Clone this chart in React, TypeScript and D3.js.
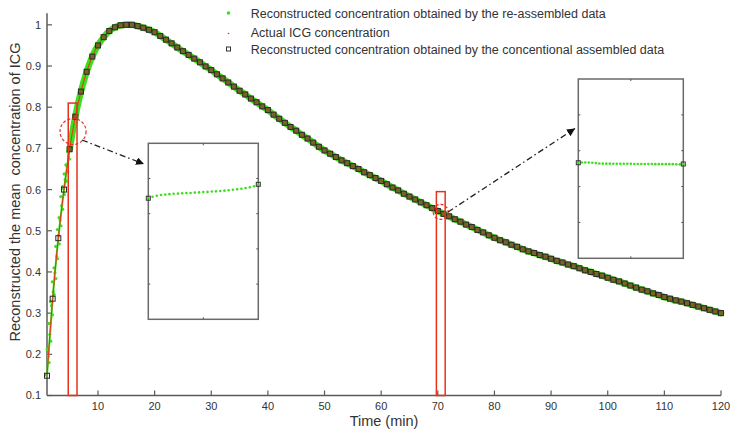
import React from "react";
import * as d3 from "d3";

// ---------- data ----------
// actual ICG concentration, read at each whole minute 1..120
const minutes: number[] = Array.from({ length: 120 }, (_, i) => i + 1);
const actualICG: number[] = [
  0.148, 0.335, 0.482, 0.600, 0.698, 0.777, 0.838, 0.886, 0.923, 0.950,
  0.970, 0.985, 0.994, 0.999, 1.000, 1.000, 0.997, 0.993, 0.988, 0.982,
  0.973, 0.964, 0.955, 0.945, 0.936, 0.927, 0.918, 0.909, 0.899, 0.890,
  0.880, 0.870, 0.860, 0.850, 0.840, 0.831, 0.821, 0.812, 0.802, 0.793,
  0.782, 0.772, 0.762, 0.752, 0.743, 0.733, 0.724, 0.714, 0.704, 0.695,
  0.687, 0.679, 0.671, 0.664, 0.657, 0.650, 0.642, 0.635, 0.628, 0.621,
  0.613, 0.605, 0.598, 0.590, 0.583, 0.576, 0.569, 0.562, 0.555, 0.548,
  0.541, 0.535, 0.528, 0.522, 0.515, 0.509, 0.502, 0.496, 0.489, 0.483,
  0.477, 0.472, 0.466, 0.461, 0.455, 0.450, 0.446, 0.441, 0.437, 0.432,
  0.427, 0.423, 0.418, 0.414, 0.409, 0.404, 0.400, 0.395, 0.391, 0.386,
  0.381, 0.377, 0.372, 0.367, 0.362, 0.357, 0.353, 0.348, 0.344, 0.339,
  0.335, 0.331, 0.328, 0.324, 0.320, 0.316, 0.312, 0.308, 0.304, 0.300,
];

// re-assembled reconstruction during the noisy rising phase (t = 1.0 .. 5.0, step 0.1)
const riseTimes: number[] = [
  1.0, 1.1, 1.2, 1.3, 1.4, 1.5, 1.6, 1.7, 1.8, 1.9, 2.0, 2.1, 2.2, 2.3, 2.4, 2.5, 2.6, 2.7, 2.8, 2.9,
  3.0, 3.1, 3.2, 3.3, 3.4, 3.5, 3.6, 3.7, 3.8, 3.9, 4.0, 4.1, 4.2, 4.3, 4.4, 4.5, 4.6, 4.7, 4.8, 4.9, 5.0,
];
const riseGreen: number[] = [
  0.150, 0.180, 0.195, 0.212, 0.232, 0.248, 0.275, 0.296, 0.318, 0.328, 0.345, 0.352, 0.376, 0.384,
  0.398, 0.410, 0.432, 0.438, 0.462, 0.468, 0.488, 0.503, 0.512, 0.526, 0.532, 0.552, 0.561, 0.583,
  0.588, 0.602, 0.607, 0.620, 0.624, 0.638, 0.643, 0.657, 0.660, 0.674, 0.680, 0.692, 0.700,
];

// zoomed windows: 5..6 min and 70..71 min, re-assembled samples
const inset1Green: number[] = [
  0.698, 0.706, 0.712, 0.716, 0.719, 0.721, 0.723, 0.724, 0.726, 0.727, 0.728, 0.730, 0.731, 0.733,
  0.734, 0.736, 0.737, 0.739, 0.741, 0.743, 0.746, 0.749, 0.752, 0.756, 0.760, 0.766, 0.774,
];
const inset2Green: number[] = [
  0.548, 0.549, 0.549, 0.549, 0.548, 0.546, 0.544, 0.543, 0.543, 0.543, 0.542, 0.542, 0.542, 0.542,
  0.542, 0.542, 0.541, 0.541, 0.541, 0.541, 0.541, 0.541, 0.540, 0.540, 0.540, 0.540, 0.540, 0.540,
  0.539, 0.539, 0.540,
];

const xTicks: number[] = [10, 20, 30, 40, 50, 60, 70, 80, 90, 100, 110, 120];
const yTicks: number[] = [0.1, 0.2, 0.3, 0.4, 0.5, 0.6, 0.7, 0.8, 0.9, 1];
const legendLabels: string[] = [
  "Reconstructed concentration obtained by the re-assembled data",
  "Actual ICG concentration",
  "Reconstructed concentration obtained by the concentional assembled data",
];
// highlighted windows in data units: [tStart, tEnd, topValue]
const zoomWindows: number[][] = [
  [4.75, 6.3, 0.81],
  [69.75, 71.3, 0.595],
];
// dashed circles: [t, value]
const zoomCircles: number[][] = [
  [5.6, 0.741],
  [70.5, 0.546],
];

// ---------- layout ----------
const W = 738;
const H = 438;
const GREEN = "#3be01c";
const RED = "#e8311a";
const AX = "#5a5a5a";
const TXT = "#333";
const FONT = "'Liberation Sans', Arial, sans-serif";

const x = d3.scaleLinear().domain([1, 120]).range([47, 721]);
const y = d3.scaleLinear().domain([0.1, 1.028]).range([395.5, 13.3]);

type Inset = { x0: number; x1: number; y0: number; y1: number; t0: number; t1: number; off: number; data: number[] };
const insets: Inset[] = [
  { x0: 148.3, x1: 258.3, y0: 143.3, y1: 319.3, t0: 5, t1: 6, off: 0.01, data: inset1Green },
  { x0: 578.3, x1: 683.3, y0: 79, y1: 258.3, t0: 70, t1: 71, off: 0.015, data: inset2Green },
];

function InsetBox({ ins }: { ins: Inset }) {
  const ix = d3.scaleLinear().domain([ins.t0, ins.t1]).range([ins.x0, ins.x1]);
  const iy = d3.scaleLinear().domain([ins.off, 1 + ins.off]).range([ins.y1, ins.y0]);
  const n = ins.data.length;
  const tAt = (i: number) => ins.t0 + (i * (ins.t1 - ins.t0)) / (n - 1);
  const yt = [0.2, 0.4, 0.6, 0.8].map((f) => ins.off + f);
  const sq = [ins.t0, ins.t1].map((t) => ({ t, v: actualICG[minutes.indexOf(t)] }));
  return (
    <g>
      <rect x={ins.x0} y={ins.y0} width={ins.x1 - ins.x0} height={ins.y1 - ins.y0} fill="#fff" stroke="#6a6a6a" strokeWidth={1.5} />
      {yt.map((v, i) => (
        <g key={i}>
          <line x1={ins.x0} x2={ins.x0 + 2} y1={iy(v)} y2={iy(v)} stroke="#555" strokeWidth={1} />
          <line x1={ins.x1} x2={ins.x1 - 2} y1={iy(v)} y2={iy(v)} stroke="#555" strokeWidth={1} />
        </g>
      ))}
      <line x1={ix((ins.t0 + ins.t1) / 2)} x2={ix((ins.t0 + ins.t1) / 2)} y1={ins.y0} y2={ins.y0 + 2} stroke="#555" />
      <line x1={ix((ins.t0 + ins.t1) / 2)} x2={ix((ins.t0 + ins.t1) / 2)} y1={ins.y1} y2={ins.y1 - 2} stroke="#555" />
      {ins.data.map((v, i) => (
        <circle key={i} cx={ix(tAt(i))} cy={iy(v)} r={1.3} fill={GREEN} />
      ))}
      {sq.map((s, i) => (
        <rect key={i} x={ix(s.t) - 2} y={iy(s.v) - 2} width={4} height={4} fill="none" stroke="#333" strokeWidth={1} />
      ))}
    </g>
  );
}

export default function App() {
  const pts = minutes.map((t, i) => [t, actualICG[i]] as [number, number]);
  const line = d3
    .line<[number, number]>()
    .x((d) => x(d[0]))
    .y((d) => y(d[1]))
    .curve(d3.curveMonotoneX);
  const path = line(pts) || "";
  const restPath = line(pts.filter((p) => p[0] >= 5)) || "";

  return (
    <svg width={W} height={H} style={{ position: "fixed", left: 0, top: 0, background: "#fff" }} fontFamily={FONT}>
      <rect width={W} height={H} fill="#fff" />
      {/* axes */}
      <line x1={x(1)} x2={x(1)} y1={y(1.028)} y2={y(0.1)} stroke={AX} strokeWidth={1.5} />
      <line x1={x(1)} x2={x(120)} y1={y(0.1)} y2={y(0.1)} stroke={AX} strokeWidth={1.5} />
      {xTicks.map((t) => (
        <g key={t}>
          <line x1={x(t)} x2={x(t)} y1={y(0.1)} y2={y(0.1) - 5} stroke={AX} strokeWidth={1.2} />
          <text x={x(t)} y={409.5} textAnchor="middle" fontSize={11} fill={TXT}>
            {t}
          </text>
        </g>
      ))}
      {yTicks.map((v) => (
        <g key={v}>
          <line x1={x(1)} x2={x(1) + 5} y1={y(v)} y2={y(v)} stroke={AX} strokeWidth={1.2} />
          <text x={41} y={y(v)} dy="0.36em" textAnchor="end" fontSize={11} fill={TXT}>
            {v}
          </text>
        </g>
      ))}
      <text x={384} y={426} textAnchor="middle" fontSize={14.5} fill={TXT}>
        Time (min)
      </text>
      <text
        transform={`translate(15,192) rotate(-90)`}
        textAnchor="middle"
        dy="0.35em"
        fontSize={14.5}
        fill={TXT}
        style={{ whiteSpace: "pre" }}
      >
        {"Reconstructed the mean  concentration of ICG"}
      </text>

      {/* data */}
      <path d={restPath} fill="none" stroke={GREEN} strokeWidth={6.5} strokeLinecap="round" />
      <path d={path} fill="none" stroke={GREEN} strokeWidth={2} />
      {riseTimes.map((t, i) => (
        <circle key={i} cx={x(t) + (i % 3 === 0 ? -1.5 : i % 3 === 1 ? 1.5 : 0)} cy={y(riseGreen[i])} r={1.6} fill={GREEN} />
      ))}
      <path d={path} fill="none" stroke={RED} strokeWidth={1} />
      {pts.map((p, i) => (
        <rect
          key={i}
          x={x(p[0]) - 2.5}
          y={y(p[1]) - 2.5}
          width={5}
          height={5}
          fill={p[0] >= 5 ? "#7a6424" : "none"}
          stroke="#2a2a2a"
          strokeWidth={1}
        />
      ))}

      {/* highlight windows */}
      {zoomWindows.map((w, i) => (
        <rect key={i} x={x(w[0])} y={y(w[2])} width={x(w[1]) - x(w[0])} height={y(0.1) - y(w[2])} fill="none" stroke={RED} strokeWidth={1.5} />
      ))}
      <circle cx={x(zoomCircles[0][0])} cy={y(zoomCircles[0][1])} r={13} fill="none" stroke={RED} strokeWidth={1.2} strokeDasharray="3,2" />
      <circle cx={x(zoomCircles[1][0])} cy={y(zoomCircles[1][1])} r={7.5} fill="none" stroke={RED} strokeWidth={1.2} strokeDasharray="3,2" />

      {/* arrows */}
      <defs>
        <marker id="ah" viewBox="0 0 10 10" refX={10} refY={5} markerWidth={8} markerHeight={8} orient="auto" markerUnits="userSpaceOnUse">
          <path d="M0,0 L10,5 L0,10 z" fill="#111" />
        </marker>
      </defs>
      <line x1={82} y1={140} x2={144} y2={164} stroke="#222" strokeWidth={1.3} strokeDasharray="6,3,1.5,3" markerEnd="url(#ah)" />
      <line x1={448} y1={212} x2={575} y2={128.5} stroke="#222" strokeWidth={1.3} strokeDasharray="6,3,1.5,3" markerEnd="url(#ah)" />

      {/* insets */}
      {insets.map((ins, i) => (
        <InsetBox key={i} ins={ins} />
      ))}

      {/* legend */}
      <circle cx={228.5} cy={13} r={1.8} fill={GREEN} />
      <circle cx={228.5} cy={33.5} r={0.8} fill={RED} />
      <rect x={226.5} y={47} width={4} height={4} fill="none" stroke="#333" strokeWidth={1} />
      {legendLabels.map((s, i) => (
        <text key={i} x={250.7} y={[14, 32.3, 50][i]} dy="0.35em" fontSize={12.5} fill={TXT}>
          {s}
        </text>
      ))}
    </svg>
  );
}
